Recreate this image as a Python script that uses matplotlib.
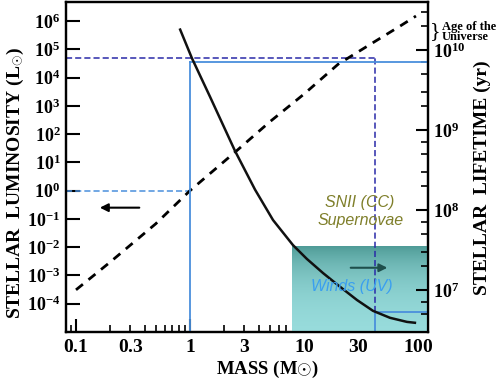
import numpy as np
import matplotlib.pyplot as plt
from matplotlib.ticker import LogLocator, FixedLocator, FuncFormatter, NullFormatter, NullLocator
from matplotlib.colors import LinearSegmentedColormap

plt.rcParams['font.family'] = ['Liberation Serif', 'DejaVu Serif']
plt.rcParams['font.weight'] = 'bold'
plt.rcParams['axes.labelweight'] = 'bold'
plt.rcParams['mathtext.fontset'] = 'custom'
plt.rcParams['mathtext.rm'] = 'Liberation Serif:bold'
plt.rcParams['mathtext.bf'] = 'Liberation Serif:bold'
plt.rcParams['mathtext.it'] = 'Liberation Serif:italic:bold'

# luminosity (dashed)
lum_mass = [0.1, 0.2, 0.5, 1.0, 2.5, 5, 10, 20, 42, 70, 96]
lum_vals = [3.1e-4, 3.0e-3, 0.067, 1.0, 23.5, 270, 2.6e3, 3.0e4, 1.9e5, 6.7e5, 1.5e6]

# lifetime (solid)
life_mass = [0.82, 1.04, 1.5, 2.48, 3.72, 5.35, 8.0, 10.6, 14.7, 20.7, 29.2, 40.3, 56.8, 80, 94]
life_vals = [1.8e10, 7.9e9, 2.6e9, 5.5e8, 1.8e8, 7.5e7, 3.65e7, 2.45e7, 1.63e7, 1.1e7,
             7.5e6, 5.5e6, 4.5e6, 4.0e6, 3.9e6]

# reference lines
ref_mass = [1, 42]
ref_lum = [1, 4.9e4]
ref_life = [7.1e9, 5.3e6]

# shaded SNII region
sn_mass_min = 7.9
sn_life_max = 3.65e7

xlim = (0.0817, 122.4)
ylim_lum = (1e-5, 4.7e6)
ylim_life = (2.99e6, 3.98e10)

fig = plt.figure(figsize=(4.98, 3.81), dpi=100)
ax = fig.add_axes([0.1325, 0.1286, 0.7269, 0.8661])
ax2 = ax.twinx()

for a in (ax, ax2):
    a.set_xscale('log')
    a.set_yscale('log')
    a.set_xlim(*xlim)
    for s in a.spines.values():
        s.set_linewidth(1.6)
ax.set_ylim(*ylim_lum)
ax2.set_ylim(*ylim_life)

# shaded gradient region
cmap = LinearSegmentedColormap.from_list('sn', ['#98dcdc', '#4b9893'])
grad = np.linspace(0, 1, 256).reshape(-1, 1)
ax2.imshow(grad, extent=[sn_mass_min, xlim[1], ylim_life[0], sn_life_max],
           origin='lower', aspect='auto', cmap=cmap, zorder=0)
ax2.set_xlim(*xlim)
ax2.set_ylim(*ylim_life)

# curves
ax.plot(lum_mass, lum_vals, color='black', lw=2, ls=(0, (3.2, 2.6)), zorder=3)
ax2.plot(life_mass, life_vals, color='#111111', lw=1.8, zorder=3)

blue = '#4a8fdc'
dblue = '#2a2aa8'
# L = 1 dashed
ax.plot([xlim[0], ref_mass[0]], [ref_lum[0], ref_lum[0]], color=blue, lw=1.1, ls=(0, (4, 2)))
# 40 Msun luminosity dashed
ax.plot([xlim[0], ref_mass[1]], [ref_lum[1], ref_lum[1]], color=dblue, lw=1.1, ls=(0, (4, 2)))
top_life = ax2.transData.inverted().transform(ax.transData.transform((ref_mass[1], ref_lum[1])))[1]
ax2.plot([ref_mass[1], ref_mass[1]], [ref_life[1], top_life], color=dblue, lw=1.1, ls=(0, (4, 2)))
# lifetime solid lines
for m, t in zip(ref_mass, ref_life):
    ax2.plot([m, m], [ylim_life[0], t], color=blue, lw=1.3)
    ax2.plot([m, xlim[1]], [t, t], color=blue, lw=1.3)

# arrows
ax.annotate('', xy=(0.153, 0.25), xytext=(0.38, 0.25),
            arrowprops=dict(arrowstyle='-|>', color='black', lw=1.5, mutation_scale=12))
ax2.annotate('', xy=(57, 1.9e7), xytext=(24.3, 1.9e7),
             arrowprops=dict(arrowstyle='-|>', color='#1e4f4c', lw=1.5, mutation_scale=12))

ax2.text(31, 1.26e8, 'SNII (CC)', color='#7f7f2a', fontsize=11.5, style='italic',
         weight='normal', family='Liberation Sans', ha='center', va='center')
ax2.text(31.5, 7.5e7, 'Supernovae', color='#7f7f2a', fontsize=11.5, style='italic',
         weight='normal', family='Liberation Sans', ha='center', va='center')
ax2.text(26.5, 1.1e7, 'Winds (UV)', color='#3a9ff0', fontsize=11.5, style='italic',
         weight='normal', family='Liberation Sans', ha='center', va='center')

# ticks
def pow_fmt(v, pos):
    e = int(round(np.log10(v)))
    return r'$\mathrm{10^{%d}}$' % e

ax.yaxis.set_major_locator(FixedLocator([10.0**k for k in range(-4, 7)]))
ax.yaxis.set_major_formatter(FuncFormatter(pow_fmt))
ax.yaxis.set_minor_locator(NullLocator())
ax.tick_params(axis='y', which='major', direction='in', length=10, width=1.5, pad=4, labelsize=13)

ax2.yaxis.set_major_locator(FixedLocator([1e7, 1e8, 1e9, 1e10]))
ax2.yaxis.set_major_formatter(FuncFormatter(pow_fmt))
ax2.yaxis.set_minor_locator(LogLocator(base=10, subs=[2, 3, 5, 7]))
ax2.yaxis.set_minor_formatter(NullFormatter())
ax2.tick_params(axis='y', which='major', direction='in', length=9, width=1.5, pad=3.5, labelsize=13)
ax2.tick_params(axis='y', which='minor', direction='in', length=5, width=1.2)

x_labels = {0.1: '0.1', 0.3: '0.3', 1: '1', 3: '3', 10: '10', 30: '30', 100: '100'}

def x_fmt(v, pos):
    for k, s in x_labels.items():
        if abs(v - k) / k < 1e-6:
            return r'$\mathrm{%s}$' % s
    return ''

ax.xaxis.set_major_locator(FixedLocator([0.1, 1, 10, 100]))
ax.xaxis.set_minor_locator(LogLocator(base=10, subs=np.arange(2, 10)))
ax.xaxis.set_major_formatter(FuncFormatter(x_fmt))
ax.xaxis.set_minor_formatter(FuncFormatter(x_fmt))
ax.tick_params(axis='x', which='major', direction='in', length=9.5, width=1.5, pad=5, labelsize=14)
ax.tick_params(axis='x', which='minor', direction='in', length=5, width=1.2, pad=5, labelsize=14)
ax2.tick_params(axis='x', which='both', length=0)

ax.set_xlabel(r'MASS (M$\odot$)', fontsize=13.5, fontweight='bold')
ax.xaxis.set_label_coords(0.555, -0.08)
ax.set_ylabel(r'STELLAR  LUMINOSITY (L$_{\odot}$)', fontsize=14, fontweight='bold', va='center')
ax.yaxis.set_label_coords(-0.141, 0.452)
ax2.set_ylabel('STELLAR  LIFETIME (yr)', fontsize=14, fontweight='bold', va='center', rotation=90)
ax2.yaxis.set_label_coords(1.149, 0.467)

fig.text(442 / 498, 1 - 32 / 381, 'Age of the\nUniverse', fontsize=9, fontweight='bold',
         ha='left', va='center', linespacing=0.85)
fig.text(435 / 498, 1 - 32 / 381, '}', fontsize=16, ha='center', va='center', weight='normal')

fig.savefig('out.png', dpi=100)
